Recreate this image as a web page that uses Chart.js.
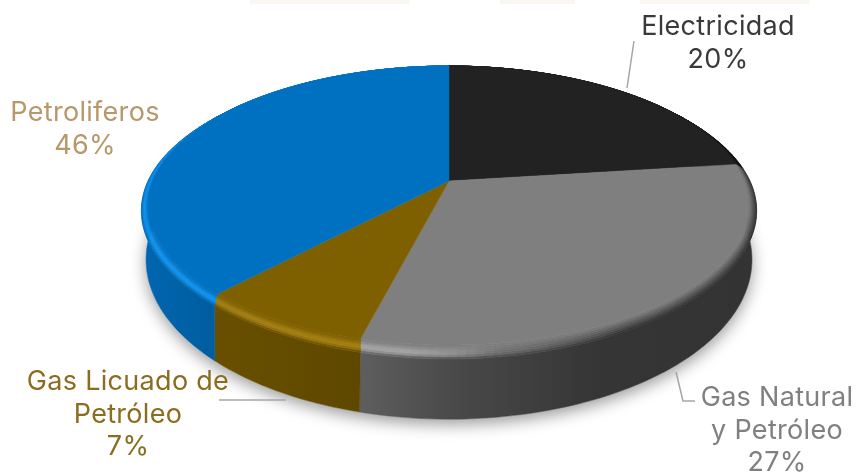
<!DOCTYPE html>
<html lang="es">
<head>
<meta charset="utf-8">
<title>Consumo de energía</title>
<script src="https://cdn.jsdelivr.net/npm/chart.js@4"></script>
<style>
  html, body { margin: 0; padding: 0; background: #fff; }
  canvas { display: block; filter: blur(.35px); }
</style>
</head>
<body>
<canvas id="pie" width="858" height="473"></canvas>
<script>
const categories = ['Electricidad', 'Gas Natural y Petróleo', 'Gas Licuado de Petróleo', 'Petroliferos'];
// printed percentages, as the labels show them
const printedPercent = [20, 27, 7, 46];
// wedge sizes as drawn in the picture: they do not agree with the printed labels
const drawnShare = [23, 31, 8, 38];
const sliceColors = ['#222222', '#7f7f7f', '#7f6000', '#0070c0'];

const labelLines = [['Electricidad'], ['Gas Natural', 'y Petróleo'], ['Gas Licuado de', 'Petróleo'], ['Petroliferos']];
const labelColors = ['#3a3a3a', '#808080', '#8c6d1f', '#b8986a'];
const labelPos = [[718, 35], [777, 406], [128, 390], [85, 121]];
const LINE_H = 32.5;
const FONT = "400 27px Inter, sans-serif";

// perspective of the top face
const CX = 449, CY = 181, A = 295.3, B = 135.2, K = 0.1757;
const STEP = Math.PI / 180 * 1.5;

const flatPt = th => {
  const c = Math.cos(th), s = Math.sin(th), d = 1 - K * s;
  return { x: CX + A * c / d, y: CY + B * s / d };
};
const rimPt = th => {
  const f = flatPt(th), c = Math.cos(th);
  return { x: f.x + 8 * c * c * c, y: 212 + (f.y - 205) * 1.05 };
};
const basePt = th => {
  const f = flatPt(th);
  return { x: CX + (f.x - CX) * 1.01, y: 259 + (f.y - 205) * 1.144 };
};
const mixPt = (p, q, t) => ({ x: p.x + (q.x - p.x) * t, y: p.y + (q.y - p.y) * t });
const clamp = (v, a, b) => Math.min(b, Math.max(a, v));

const rgb = hex => [1, 3, 5].map(i => parseInt(hex.substr(i, 2), 16));
const css = c => `rgb(${c.map(v => Math.round(clamp(v, 0, 255))).join(',')})`;

// wall gets darker from left to right
const wallStops = [[140, .92], [220, .82], [362, .74], [450, .58], [600, .42], [760, .40]];
function wallShade(x) {
  for (let i = 1; i < wallStops.length; i++) {
    if (x <= wallStops[i][0]) {
      const [x0, s0] = wallStops[i - 1], [x1, s1] = wallStops[i];
      return s0 + (s1 - s0) * clamp((x - x0) / (x1 - x0), 0, 1);
    }
  }
  return wallStops[wallStops.length - 1][1];
}

function bevelColor(base, x, t) {
  const light = clamp((500 - x) / 90, 0, 1) * Math.pow(Math.sin(Math.PI * clamp(t * 0.9, 0, 1)), 2);
  const dark = clamp((x - 450) / 170, 0, 1) * t * 0.62;
  const toWall = clamp((t - 0.7) / 0.3, 0, 1);
  const s = 1 + (wallShade(x) - 1) * toWall * (1 - clamp((x - 450) / 170, 0, 1));
  return css(base.map(v => (v * (1 + 0.15 * light) + 16 * light) * (1 - dark) * s));
}

function quad(ctx, a, b, c, d, color) {
  ctx.fillStyle = color;
  ctx.strokeStyle = color;
  ctx.lineWidth = 0.7;
  ctx.beginPath();
  ctx.moveTo(a.x, a.y);
  ctx.lineTo(b.x, b.y);
  ctx.lineTo(c.x, c.y);
  ctx.lineTo(d.x, d.y);
  ctx.closePath();
  ctx.fill();
  ctx.stroke();
}

function angleList(arc) {
  const out = [];
  for (let th = arc.startAngle; th < arc.endAngle; th += STEP) out.push(th);
  out.push(arc.endAngle);
  return out;
}

function wallGradient(ctx, base) {
  const x0 = wallStops[0][0], x1 = wallStops[wallStops.length - 1][0];
  const g = ctx.createLinearGradient(x0, 0, x1, 0);
  wallStops.forEach(([x, s]) => g.addColorStop((x - x0) / (x1 - x0), css(base.map(v => v * s))));
  return g;
}

const pie3d = {
  id: 'pie3d',
  beforeDatasetsDraw(chart) {
    const ctx = chart.ctx;
    const arcs = chart.getDatasetMeta(0).data;
    ctx.save();

    // soft shadow under the disc
    ctx.save();
    ctx.shadowColor = 'rgba(0,0,0,.4)';
    ctx.shadowBlur = 16;
    ctx.shadowOffsetY = 5;
    ctx.fillStyle = '#fff';
    ctx.beginPath();
    for (let th = 0; th < Math.PI * 2; th += STEP) {
      const p = basePt(th);
      ctx.lineTo(p.x, p.y);
    }
    ctx.closePath();
    ctx.fill();
    ctx.restore();

    // side wall
    arcs.forEach((arc, i) => {
      const ths = angleList(arc);
      const g = wallGradient(ctx, rgb(sliceColors[i]));
      ctx.fillStyle = g;
      ctx.strokeStyle = g;
      ctx.lineWidth = 0.5;
      ctx.beginPath();
      ths.forEach(th => { const p = rimPt(th); ctx.lineTo(p.x, p.y); });
      ths.slice().reverse().forEach(th => { const p = basePt(th); ctx.lineTo(p.x, p.y); });
      ctx.closePath();
      ctx.fill();
      ctx.stroke();
    });

    // rounded edge between wall and top
    const RINGS = 6;
    arcs.forEach((arc, i) => {
      const base = rgb(sliceColors[i]);
      const ths = angleList(arc);
      for (let j = 0; j < ths.length - 1; j++) {
        for (let r = RINGS - 1; r >= 0; r--) {
          const f0 = flatPt(ths[j]), f1 = flatPt(ths[j + 1]);
          const o0 = rimPt(ths[j]), o1 = rimPt(ths[j + 1]);
          const t0 = r / RINGS, t1 = (r + 1) / RINGS;
          quad(ctx, mixPt(f0, o0, t0), mixPt(f1, o1, t0), mixPt(f1, o1, t1), mixPt(f0, o0, t1),
            bevelColor(base, (f0.x + f1.x) / 2, (t0 + t1) / 2));
        }
      }
    });

    // flat top
    arcs.forEach((arc, i) => {
      ctx.fillStyle = sliceColors[i];
      ctx.strokeStyle = sliceColors[i];
      ctx.lineWidth = 0.5;
      ctx.beginPath();
      ctx.moveTo(CX, CY);
      angleList(arc).forEach(th => {
        const p = flatPt(th);
        ctx.lineTo(p.x, p.y);
      });
      ctx.closePath();
      ctx.fill();
      ctx.stroke();
    });

    ctx.restore();
    return false;
  },
  afterDraw(chart) {
    const ctx = chart.ctx;
    ctx.save();

    // pale strips along the top edge
    ctx.fillStyle = '#faf7f2';
    ctx.fillRect(250, 0, 160, 4);
    ctx.fillRect(500, 0, 75, 4);
    ctx.fillRect(640, 0, 170, 4);

    // leader lines
    ctx.strokeStyle = '#a6a6a6';
    ctx.lineWidth = 1.5;
    ctx.beginPath();
    ctx.moveTo(634, 41); ctx.lineTo(627, 88);
    ctx.moveTo(676, 372); ctx.lineTo(683, 401); ctx.lineTo(695, 401);
    ctx.moveTo(219, 400); ctx.lineTo(286, 400);
    ctx.stroke();

    // labels
    ctx.font = FONT;
    ctx.letterSpacing = '0.3px';
    ctx.textAlign = 'center';
    ctx.textBaseline = 'alphabetic';
    categories.forEach((name, i) => {
      const lines = [...labelLines[i], printedPercent[i] + '%'];
      ctx.fillStyle = labelColors[i];
      lines.forEach((ln, n) => ctx.fillText(ln, labelPos[i][0], labelPos[i][1] + n * LINE_H));
    });
    ctx.restore();
  }
};

new Chart(document.getElementById('pie'), {
  type: 'pie',
  data: {
    labels: categories,
    datasets: [{ data: drawnShare, backgroundColor: sliceColors, borderWidth: 0 }]
  },
  options: {
    responsive: false,
    animation: false,
    events: [],
    plugins: { legend: { display: false }, tooltip: { enabled: false } }
  },
  plugins: [pie3d]
});
</script>
</body>
</html>
